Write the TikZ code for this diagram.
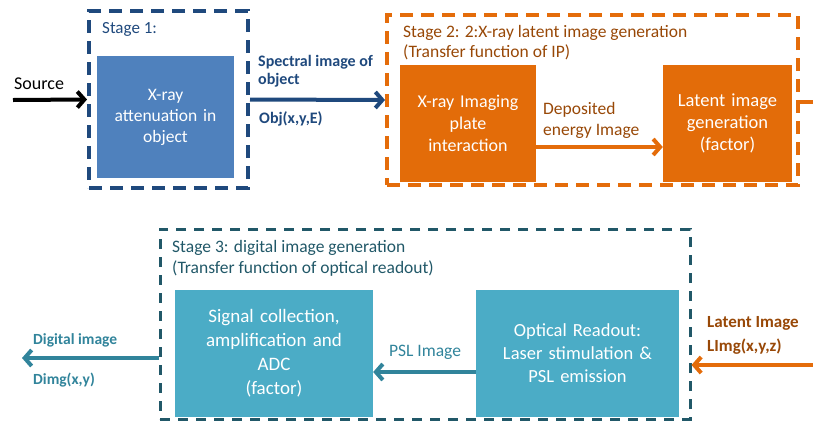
\documentclass[tikz,border=0pt]{standalone}
\usepackage{fontspec}
\setmainfont{Carlito}
\usetikzlibrary{arrows.meta}
\definecolor{sblue}{HTML}{1F497D}
\definecolor{bblue}{HTML}{4F81BD}
\definecolor{sorange}{HTML}{E46C0A}
\definecolor{borange}{HTML}{E36C09}
\definecolor{sbrown}{HTML}{984807}
\definecolor{steal}{HTML}{215868}
\definecolor{bteal}{HTML}{4BACC6}
\definecolor{ateal}{HTML}{31849B}
\tikzset{
  stagebox/.style={draw, line width=4pt, dash pattern=on 13pt off 8pt, inner sep=0pt},
  fillbox/.style={inner sep=0pt, text=white, align=center, font=\fontsize{18.5}{22}\selectfont},
  lbl/.style={inner sep=0pt, align=left},
  arr/.style={line width=4pt, -{Straight Barb[length=7pt,width=16pt]}},
}
\begin{document}
\begin{tikzpicture}[x=1pt,y=-1pt]
\useasboundingbox (0,0) rectangle (813,421);
% Stage 1
\node[stagebox, color=sblue, minimum width=159pt, minimum height=177pt] (s1) at (168.5,99.5) {};
\node[fillbox, fill=bblue, minimum width=137pt, minimum height=122pt, text width=130pt, font=\fontsize{17.5}{21}\selectfont] (b1) at (165.5,117) {X-ray\\attenuation in\\object};
\node[lbl, text=sblue, anchor=west, font=\fontsize{17}{18}\selectfont] (t1) at (102,29) {Stage 1:};
% Stage 2
\node[stagebox, color=sorange, minimum width=411pt, minimum height=170pt] (s2) at (592.5,100) {};
\node[fillbox, fill=borange, minimum width=136pt, minimum height=117pt, text width=132pt, font=\fontsize{18}{22}\selectfont] (b2) at (468,123.5) {X-ray Imaging\\plate\\interaction};
\node[fillbox, fill=borange, minimum width=129pt, minimum height=117pt, text width=127pt, font=\fontsize{18.5}{22}\selectfont] (b3) at (727.5,123.5) {Latent image\\generation\\(factor)};
\node[lbl, text=sbrown, anchor=west, font=\fontsize{17.5}{20}\selectfont] (t2) at (403,43) {Stage 2: 2:X-ray latent image generation\\(Transfer function of IP)};
% Stage 3
\node[stagebox, color=steal, line width=3pt, dash pattern=on 10pt off 8pt, minimum width=530pt, minimum height=190pt] (s3) at (425,324) {};
\node[fillbox, fill=bteal, minimum width=198pt, minimum height=127pt, text width=194pt, font=\fontsize{19}{24}\selectfont] (b4) at (274,353.5) {Signal collection,\\amplification and\\ADC\\(factor)};
\node[fillbox, fill=bteal, minimum width=203pt, minimum height=127pt, text width=199pt, font=\fontsize{18.5}{23}\selectfont] (b5) at (577.5,353.5) {Optical Readout:\\Laser stimulation \&\\PSL emission};
\node[lbl, text=steal, anchor=west, font=\fontsize{17.5}{21}\selectfont] (t3) at (172,258.5) {Stage 3: digital image generation\\(Transfer function of optical readout)};
% coordinates
\coordinate (src) at (13,100);
\coordinate (dep) at (600,147);
\coordinate (rexit) at (813,102);
\coordinate (latsrc) at (813,365);
\coordinate (psl) at (425,372);
\coordinate (dig) at (22,358);
% arrows
\draw[arr, black] (src) -- (s1.west);
\draw[arr, sblue] (s1.east) -- (s2.west);
\draw[arr, sorange] (b2.east |- dep) -- (b3.west |- dep);
\draw[line width=4pt, sorange] (s2.east |- rexit) -- (rexit);
\draw[arr, sorange] (latsrc) -- (s3.east |- latsrc);
\draw[arr, ateal] (b5.west |- psl) -- (b4.east |- psl);
\draw[arr, ateal] (s3.west |- dig) -- (dig);
% labels
\node[lbl, anchor=west, font=\fontsize{18}{18}\selectfont] (lsrc) at (14,84) {Source};
\node[lbl, anchor=west, text=sblue, font=\bfseries\fontsize{16}{18}\selectfont] (lspec) at (258,71) {Spectral image of\\object};
\node[lbl, anchor=west, text=sblue, font=\bfseries\fontsize{16}{18}\selectfont] (lobj) at (259,119) {Obj(x,y,E)};
\node[lbl, anchor=west, text=sbrown, font=\fontsize{17.5}{21}\selectfont] (ldep) at (543,120.5) {Deposited\\energy Image};
\node[lbl, text=ateal, font=\fontsize{17.5}{18}\selectfont] (lpsl) at (425,352) {PSL Image};
\node[lbl, anchor=west, text=ateal, font=\bfseries\fontsize{15.5}{18}\selectfont] (ldig) at (33,340) {Digital image};
\node[lbl, anchor=west, text=ateal, font=\bfseries\fontsize{15.5}{18}\selectfont] (ldimg) at (33,380) {Dimg(x,y)};
\node[lbl, anchor=west, text=sbrown, font=\bfseries\fontsize{17}{24}\selectfont] (llat) at (707,335) {Latent Image\\LImg(x,y,z)};
\end{tikzpicture}
\end{document}
